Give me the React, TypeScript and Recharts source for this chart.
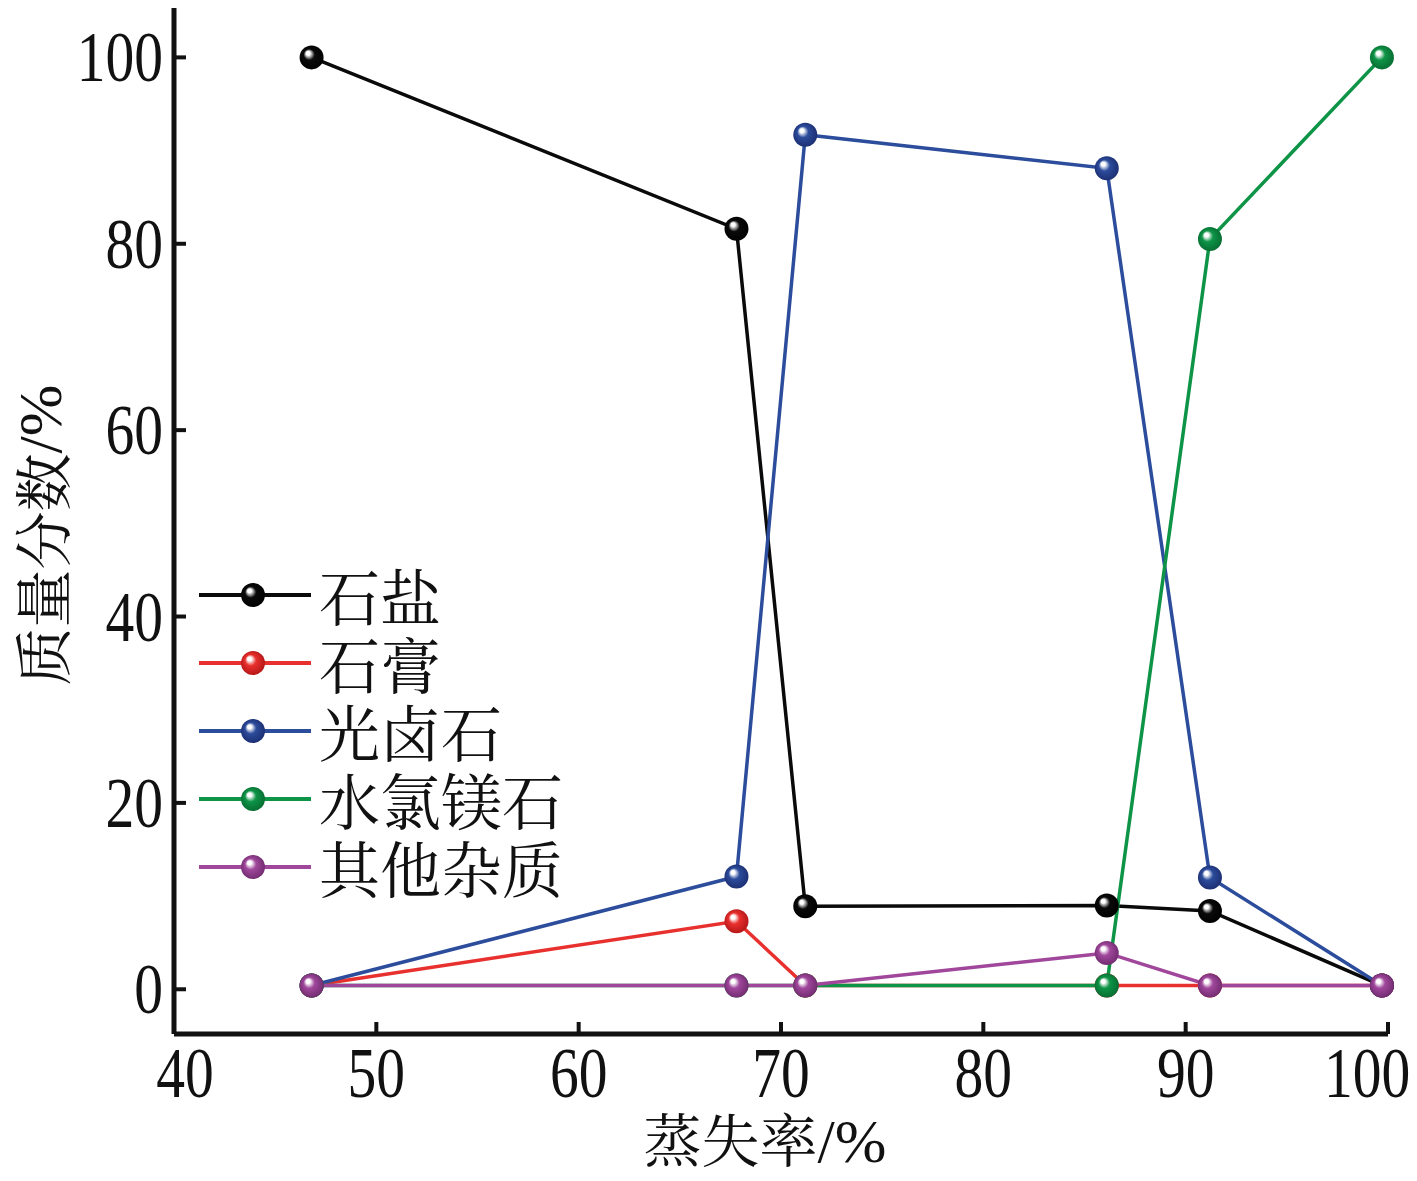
import { LineChart, Line, XAxis, YAxis, Legend } from "recharts";

// 蒸失率 (%)
const evaporation = [46.8, 67.8, 71.2, 86.1, 91.2, 99.7];

const halite = [100, 81.6, 8.9, 9.0, 8.4, 0.4];
const gypsum = [0.4, 7.3, 0.4, 0.4, 0.4, 0.4];
const carnallite = [0.4, 12.1, 91.7, 88.1, 12.0, 0.4];
const bischofite = [0.4, 0.4, 0.4, 0.4, 80.5, 100];
const impurities = [0.4, 0.4, 0.4, 3.9, 0.4, 0.4];

const xTicks = [40, 50, 60, 70, 80, 90, 100];
const yTicks = [0, 20, 40, 60, 80, 100];

const series = [
  { key: "halite", name: "石盐", color: "#0a0a0a", dark: "#000000", values: halite },
  { key: "gypsum", name: "石膏", color: "#e8302e", dark: "#b01515", values: gypsum },
  { key: "carnallite", name: "光卤石", color: "#2c4c9c", dark: "#1b2c6e", values: carnallite },
  { key: "bischofite", name: "水氯镁石", color: "#0e9447", dark: "#066a30", values: bischofite },
  { key: "impurities", name: "其他杂质", color: "#a0479c", dark: "#6e2a6c", values: impurities },
];

const data = evaporation.map((x, i) => {
  const row: Record<string, number> = { x };
  series.forEach((s) => (row[s.key] = s.values[i]));
  return row;
});

const NUM_FONT = "'Liberation Serif', 'Times New Roman', serif";
const CJK_FONT = "'Noto Serif CJK SC', 'Noto Sans CJK SC', sans-serif";

function Ball({ cx, cy, id, r = 12 }: { cx: number; cy: number; id: string; r?: number }) {
  return <circle cx={cx} cy={cy} r={r} fill={`url(#ball-${id})`} />;
}

// end labels sit a little inside the axis, as in the original figure
const xLabelShift: Record<number, number> = { 40: 11, 100: -21 };

function XTick({ x, y, payload }: any) {
  const dx = xLabelShift[payload.value] ?? 0;
  return (
    <g>
      {payload.value !== 40 && (
        <line x1={x} y1={y} x2={x} y2={y - 12} stroke="#111" strokeWidth={4} />
      )}
      <text
        transform={`translate(${x + dx},${y + 63}) scale(0.81,1)`}
        textAnchor="middle"
        fontFamily={NUM_FONT}
        fontSize={71}
        fill="#111"
      >
        {payload.value}
      </text>
    </g>
  );
}

function YTick({ x, y, payload }: any) {
  return (
    <g>
      <line x1={x} y1={y} x2={x + 12} y2={y} stroke="#111" strokeWidth={4} />
      <text
        transform={`translate(${x - 11},${y + 24}) scale(0.81,1)`}
        textAnchor="end"
        fontFamily={NUM_FONT}
        fontSize={71}
        fill="#111"
      >
        {payload.value}
      </text>
    </g>
  );
}

function LegendBox() {
  return (
    <div style={{ display: "flex", flexDirection: "column" }}>
      {series.map((s) => (
        <div key={s.key} style={{ display: "flex", alignItems: "center", height: 68 }}>
          <svg width={120} height={68} style={{ display: "block", flex: "none" }}>
            <line x1={0} y1={34} x2={112} y2={34} stroke={s.color} strokeWidth={4} />
            <Ball cx={54} cy={34} id={s.key} />
          </svg>
          <span
            style={{
              fontFamily: CJK_FONT,
              fontSize: 61,
              lineHeight: "68px",
              color: "#111",
              whiteSpace: "nowrap",
            }}
          >
            {s.name}
          </span>
        </div>
      ))}
    </div>
  );
}

export default function App() {
  return (
    <LineChart
      width={1401}
      height={1165}
      data={data}
      margin={{ top: 0, right: 21, bottom: 0, left: 0 }}
    >
      <defs>
        {series.map((s) => (
          <radialGradient key={s.key} id={`ball-${s.key}`} cx="50%" cy="50%" r="55%" fx="33%" fy="30%">
            <stop offset="0%" stopColor="#ffffff" />
            <stop offset="15%" stopColor="#ffffff" stopOpacity={0.95} />
            <stop offset="42%" stopColor={s.color} />
            <stop offset="100%" stopColor={s.dark} />
          </radialGradient>
        ))}
      </defs>
      <XAxis
        dataKey="x"
        type="number"
        domain={[40, 100]}
        ticks={xTicks}
        height={139}
        tickSize={0}
        tickMargin={0}
        tickLine={false}
        axisLine={{ stroke: "#111", strokeWidth: 5 }}
        tick={<XTick />}
        label={(props: any) => {
          const vb = props.viewBox;
          return (
            <text
              x={757}
              y={(vb?.y ?? 1026) + 128}
              textAnchor="middle"
              fontFamily={CJK_FONT}
              fontSize={58}
              fill="#111"
            >
              蒸失率
              <tspan fontFamily={NUM_FONT} fontSize={62}>/%</tspan>
            </text>
          );
        }}
      />
      <YAxis
        type="number"
        domain={[-4.8, 105.3]}
        allowDataOverflow
        ticks={yTicks}
        width={166}
        tickSize={0}
        tickMargin={0}
        tickLine={false}
        axisLine={{ stroke: "#111", strokeWidth: 5 }}
        tick={<YTick />}
        label={() => (
          <text
            x={32}
            y={527}
            transform="rotate(-90, 32, 527)"
            textAnchor="middle"
            dominantBaseline="central"
            fontFamily={CJK_FONT}
            fontSize={58}
            fill="#111"
          >
            质量分数
            <tspan fontFamily={NUM_FONT} fontSize={62}>/%</tspan>
          </text>
        )}
      />
      <Legend
        layout="vertical"
        align="center"
        verticalAlign="middle"
        content={() => <LegendBox />}
        wrapperStyle={{ left: 191, top: 553, width: 420, height: 340 }}
      />
      {series.map((s) => (
        <Line
          key={s.key}
          dataKey={s.key}
          name={s.name}
          type="linear"
          stroke={s.color}
          strokeWidth={3.5}
          isAnimationActive={false}
          dot={(p: any) => <Ball key={`${s.key}-${p.index}`} cx={p.cx} cy={p.cy} id={s.key} />}
          activeDot={false}
        />
      ))}
    </LineChart>
  );
}
